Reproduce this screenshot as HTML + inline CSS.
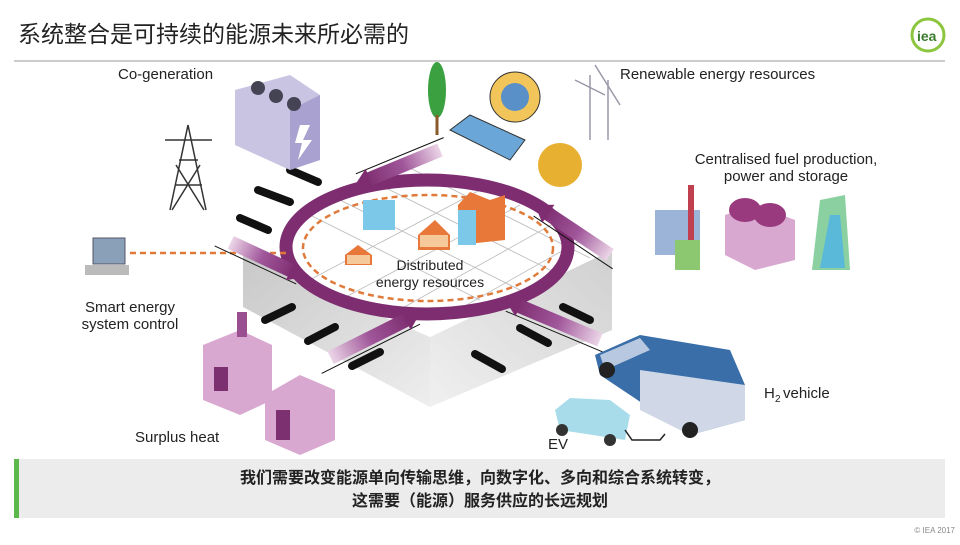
<!DOCTYPE html>
<html><head><meta charset="utf-8"><style>
body{margin:0;background:#fff;width:960px;height:540px;overflow:hidden;font-family:"Liberation Sans","Noto Sans CJK SC",sans-serif}
</style></head><body>
<svg width="960" height="540" viewBox="0 0 960 540" xmlns="http://www.w3.org/2000/svg" font-family="Liberation Sans, Noto Sans CJK SC, sans-serif">
<defs>
<linearGradient id="gl" x1="0" y1="0" x2="1" y2="1"><stop offset="0" stop-color="#c8c8c8"/><stop offset="1" stop-color="#eeeeee"/></linearGradient>
<linearGradient id="gr" x1="1" y1="0" x2="0" y2="1"><stop offset="0" stop-color="#d0d0d0"/><stop offset="1" stop-color="#f0f0f0"/></linearGradient>
<linearGradient id="ar" x1="0" y1="0" x2="1" y2="0"><stop offset="0" stop-color="#ecd6e8"/><stop offset="0.5" stop-color="#a0569a"/><stop offset="1" stop-color="#7d2d70"/></linearGradient>
</defs>
<text x="18" y="42" font-size="23" fill="#222">系统整合是可持续的能源未来所必需的</text>
<line x1="14" y1="61" x2="945" y2="61" stroke="#bbb" stroke-width="1.5"/>
<circle cx="928" cy="35" r="16" fill="none" stroke="#8cc63e" stroke-width="3"/>
<text x="917" y="41" font-size="14" font-weight="bold" fill="#3a7d2c">iea</text>
<!-- platform -->
<polygon points="243,255 430,337 430,407 243,307" fill="url(#gl)"/>
<polygon points="612,250 430,337 430,407 612,330" fill="url(#gr)"/>
<polygon points="243,255 430,160 612,250 430,337" fill="#fff"/>
<g stroke="#bbb" stroke-width="0.8">
<line x1="300" y1="210" x2="480" y2="300"/><line x1="330" y1="195" x2="520" y2="290"/><line x1="370" y1="180" x2="560" y2="275"/><line x1="410" y1="168" x2="590" y2="258"/>
<line x1="300" y1="285" x2="480" y2="190"/><line x1="340" y1="300" x2="520" y2="205"/><line x1="390" y1="315" x2="560" y2="220"/><line x1="440" y1="320" x2="590" y2="235"/>
</g>
<!-- black rods -->
<g stroke="#111" stroke-width="8" stroke-linecap="round">
<line x1="290" y1="170" x2="318" y2="182"/><line x1="258" y1="190" x2="290" y2="202"/><line x1="240" y1="218" x2="268" y2="230"/>
<line x1="265" y1="320" x2="292" y2="307"/><line x1="308" y1="341" x2="335" y2="327"/><line x1="352" y1="366" x2="380" y2="352"/>
<line x1="475" y1="354" x2="502" y2="369"/><line x1="520" y1="328" x2="548" y2="343"/><line x1="563" y1="307" x2="590" y2="320"/>
</g>
<ellipse cx="427" cy="247" rx="141" ry="67" fill="none" stroke="#7d2d70" stroke-width="13"/>
<ellipse cx="428" cy="248" rx="125" ry="53" fill="none" stroke="#e07a3a" stroke-width="2.5" stroke-dasharray="6,4"/>
<line x1="130" y1="253" x2="290" y2="253" stroke="#e07a3a" stroke-width="2.5" stroke-dasharray="6,4"/>
<!-- arrows -->
<g transform="translate(305,277) rotate(25)"><line x1="-95" y1="10" x2="-5" y2="10" stroke="#111" stroke-width="1"/><rect x="-82" y="-7" width="70" height="14" fill="url(#ar)"/><polygon points="-16,-11 0,0 -16,11" fill="#7d2d70"/></g>
<g transform="translate(420,313) rotate(-26.6)"><line x1="-115" y1="10" x2="-5" y2="10" stroke="#111" stroke-width="1"/><rect x="-100" y="-7" width="88" height="14" fill="url(#ar)"/><polygon points="-16,-11 0,0 -16,11" fill="#7d2d70"/></g>
<g transform="translate(505,300) rotate(202.8)"><line x1="-115" y1="-10" x2="-5" y2="-10" stroke="#111" stroke-width="1"/><rect x="-103" y="-7" width="91" height="14" fill="url(#ar)"/><polygon points="-16,-11 0,0 -16,11" fill="#7d2d70"/></g>
<g transform="translate(535,205) rotate(213.7)"><line x1="-100" y1="-10" x2="-5" y2="-10" stroke="#111" stroke-width="1"/><rect x="-90" y="-7" width="78" height="14" fill="url(#ar)"/><polygon points="-16,-11 0,0 -16,11" fill="#7d2d70"/></g>
<g transform="translate(355,185) rotate(157.6)"><line x1="-100" y1="10" x2="-5" y2="10" stroke="#111" stroke-width="1"/><rect x="-92" y="-7" width="80" height="14" fill="url(#ar)"/><polygon points="-16,-11 0,0 -16,11" fill="#7d2d70"/></g>
<!-- houses -->
<rect x="363" y="200" width="32" height="30" fill="#7cc8e8"/>
<polygon points="418,235 435,220 450,235 450,250 418,250" fill="#e8773a"/><rect x="420" y="235" width="28" height="12" fill="#f6c99a"/>
<polygon points="345,255 358,245 372,255 372,265 345,265" fill="#e8773a"/><rect x="347" y="255" width="23" height="9" fill="#f6c99a"/>
<polygon points="458,205 470,192 490,200 505,195 505,240 458,245" fill="#e8773a"/><rect x="458" y="210" width="18" height="35" fill="#7cc8e8"/>
<text x="430" y="270" font-size="14" text-anchor="middle" fill="#222">Distributed</text>
<text x="430" y="287" font-size="14" text-anchor="middle" fill="#222">energy resources</text>
<!-- co-generation -->
<polygon points="235,90 290,75 320,95 320,160 290,170 235,145" fill="#c9c4e2"/>
<polygon points="290,110 320,95 320,160 290,170" fill="#a9a2d0"/>
<circle cx="258" cy="88" r="7" fill="#445"/><circle cx="276" cy="96" r="7" fill="#445"/><circle cx="294" cy="104" r="7" fill="#445"/>
<polygon points="300,125 310,125 303,140 312,140 298,160 302,143 295,143" fill="#fff"/>
<g stroke="#333" stroke-width="1.5" fill="none"><path d="M170,210 L188,125 L206,210 M175,185 L202,185 M179,160 L198,160 M165,140 L212,140 M172,210 L200,165 M204,210 L176,165"/></g>
<text x="118" y="79" font-size="15" fill="#222">Co-generation</text>
<!-- smart energy -->
<rect x="93" y="238" width="32" height="26" fill="#8aa0b8" stroke="#556" /><rect x="85" y="265" width="44" height="10" fill="#bbb"/>
<text x="130" y="312" font-size="15" text-anchor="middle" fill="#222">Smart energy</text>
<text x="130" y="329" font-size="15" text-anchor="middle" fill="#222">system control</text>
<!-- surplus heat -->
<polygon points="203,345 240,330 272,345 272,400 240,415 203,400" fill="#d9a8d0"/><rect x="214" y="367" width="14" height="24" fill="#7d3070"/>
<rect x="237" y="312" width="10" height="25" fill="#9a5090"/>
<polygon points="265,395 300,375 335,390 335,440 300,455 265,440" fill="#d9a8d0"/><rect x="276" y="410" width="14" height="30" fill="#7d3070"/>
<text x="135" y="442" font-size="15" fill="#222">Surplus heat</text>
<!-- renewables -->
<ellipse cx="437" cy="90" rx="9" ry="28" fill="#3aa040"/><line x1="437" y1="115" x2="437" y2="135" stroke="#8a5a2a" stroke-width="3"/>
<polygon points="450,130 470,115 525,140 510,160" fill="#6aa6d8" stroke="#333"/>
<circle cx="515" cy="97" r="25" fill="#f1c55a" stroke="#333"/><circle cx="515" cy="97" r="14" fill="#5a90c8"/>
<circle cx="560" cy="165" r="22" fill="#e8b030"/>
<g stroke="#99a" stroke-width="1.5"><line x1="590" y1="75" x2="590" y2="140"/><line x1="608" y1="80" x2="608" y2="140"/><line x1="575" y1="80" x2="605" y2="95"/><line x1="595" y1="65" x2="620" y2="105"/></g>
<text x="620" y="79" font-size="15" fill="#222">Renewable energy resources</text>
<text x="786" y="164" font-size="15" text-anchor="middle" fill="#222">Centralised fuel production,</text>
<text x="786" y="181" font-size="15" text-anchor="middle" fill="#222">power and storage</text>
<rect x="655" y="210" width="45" height="45" fill="#9cb4d8"/><rect x="688" y="185" width="6" height="70" fill="#c04050"/><rect x="675" y="240" width="25" height="30" fill="#8bc870"/>
<polygon points="725,215 755,205 795,220 795,260 755,270 725,255" fill="#d9a8d0"/><ellipse cx="745" cy="210" rx="16" ry="12" fill="#9a3a7e"/><ellipse cx="770" cy="215" rx="16" ry="12" fill="#9a3a7e"/>
<polygon points="820,200 845,195 850,270 812,270" fill="#8bd0a0"/><polygon points="830,215 840,215 845,268 820,268" fill="#5ab8d8"/>
<!-- vehicles -->
<polygon points="595,355 640,335 730,350 745,385 745,420 690,435 600,375" fill="#3a6ea8"/>
<polygon points="600,355 640,338 650,350 605,370" fill="#b8c8e0"/>
<polygon points="640,370 745,385 745,420 690,435 640,410" fill="#d0d8e8"/>
<circle cx="607" cy="370" r="8" fill="#222"/><circle cx="690" cy="430" r="8" fill="#222"/>
<text x="764" y="398" font-size="15" fill="#222">H</text><text x="775" y="402" font-size="10" fill="#222">2</text><text x="783" y="398" font-size="15" fill="#222">vehicle</text>
<polygon points="555,410 570,398 610,400 630,415 625,440 560,430" fill="#a8dcea"/>
<circle cx="562" cy="430" r="6" fill="#333"/><circle cx="610" cy="440" r="6" fill="#333"/>
<path d="M625,430 L632,440 L660,440 L665,434" stroke="#222" fill="none" stroke-width="1.5"/>
<text x="548" y="449" font-size="15" fill="#222">EV</text>
<!-- banner -->
<rect x="14" y="459" width="931" height="59" fill="#ececec"/>
<rect x="14" y="459" width="5" height="59" fill="#5cb84a"/>
<text x="480" y="483" font-size="16" font-weight="bold" text-anchor="middle" fill="#222">我们需要改变能源单向传输思维，向数字化、多向和综合系统转变，</text>
<text x="480" y="506" font-size="16" font-weight="bold" text-anchor="middle" fill="#222">这需要（能源）服务供应的长远规划</text>
<text x="955" y="533" font-size="8" text-anchor="end" fill="#888">© IEA 2017</text>
</svg>
</body></html>
